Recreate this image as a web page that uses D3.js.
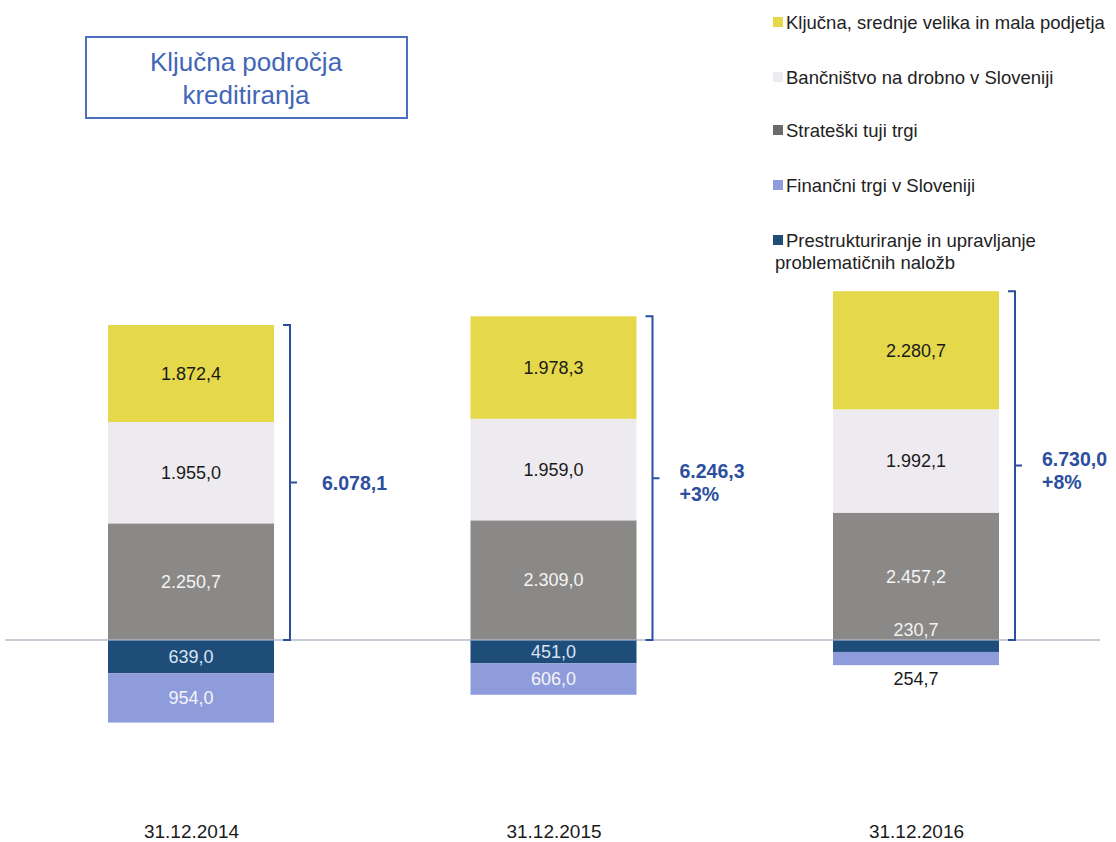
<!DOCTYPE html>
<html>
<head>
<meta charset="utf-8">
<script src="https://cdn.jsdelivr.net/npm/d3@7"></script>
<style>
  html, body { margin: 0; padding: 0; background: #fff; }
  svg { display: block; font-family: "Liberation Sans", Arial, sans-serif; }
</style>
</head>
<body>
<svg id="chart" width="1116" height="842"></svg>
<script>
// Loan portfolio by segment (EUR m), positive segments stacked above the line,
// non-core segments below it.
const dates = ["31.12.2014", "31.12.2015", "31.12.2016"];
const corporate = [1872.4, 1978.3, 2280.7];   // Ključna, srednje velika in mala podjetja
const retail    = [1955.0, 1959.0, 1992.1];   // Bančništvo na drobno v Sloveniji
const foreign   = [2250.7, 2309.0, 2457.2];   // Strateški tuji trgi
const restructuring = [639.0, 451.0, 230.7];  // Prestrukturiranje in upravljanje problematičnih naložb
const financial = [954.0, 606.0, 254.7];      // Finančni trgi v Sloveniji

const legendLabels = [
  ["Ključna, srednje velika in mala podjetja"],
  ["Bančništvo na drobno v Sloveniji"],
  ["Strateški tuji trgi"],
  ["Finančni trgi v Sloveniji"],
  ["Prestrukturiranje in upravljanje", "problematičnih naložb"]
];
const titleLines = ["Ključna področja", "kreditiranja"];

const colors = {
  corporate: "#e6d84b",
  retail: "#eeebf0",
  foreign: "#8b8987",
  restructuring: "#1f4d7a",
  financial: "#8f9cdc"
};
const blue = "#2b4f9e";

const svg = d3.select("#chart");
const loc = d3.formatLocale({decimal: ",", thousands: ".", grouping: [3], currency: ["", ""]});
const fmt = loc.format(",.1f");

// scales
const baseY = 640;
const k = 315 / 6078.1;
const y = d3.scaleLinear().domain([-1500, 7000]).range([baseY + 1500 * k, baseY - 7000 * k]);
const x = d3.scalePoint().domain(dates).range([191, 916]);
const barW = 166;

// baseline
svg.append("line")
  .attr("x1", 5).attr("x2", 1100)
  .attr("y1", y(0)).attr("y2", y(0))
  .attr("stroke", "#8f9bb0").attr("stroke-width", 1.2);

// build segments
const bars = dates.map((d, i) => {
  const up = [
    {key: "foreign", v: foreign[i], text: "#f4f4f4"},
    {key: "retail", v: retail[i], text: "#1a1a1a"},
    {key: "corporate", v: corporate[i], text: "#1a1a1a"}
  ];
  const down = [
    {key: "restructuring", v: restructuring[i], text: "#d8e4f4"},
    {key: "financial", v: financial[i], text: "#f4f4f8"}
  ];
  let acc = 0;
  up.forEach(s => { s.y0 = acc; s.y1 = acc + s.v; acc = s.y1; });
  const total = acc;
  acc = 0;
  down.forEach(s => { s.y0 = acc; s.y1 = acc - s.v; acc = s.y1; });
  return {date: d, i, segs: up.concat(down), total};
});

const g = svg.append("g");
bars.forEach(b => {
  const cx = x(b.date);
  b.segs.forEach(s => {
    const top = y(Math.max(s.y0, s.y1));
    const bot = y(Math.min(s.y0, s.y1));
    g.append("rect")
      .attr("x", cx - barW / 2).attr("width", barW)
      .attr("y", top).attr("height", bot - top)
      .attr("fill", colors[s.key]);
  });
});

// thin light edge where the bars cross the zero line
bars.forEach(b => {
  const cx = x(b.date);
  g.append("line")
    .attr("x1", cx - barW / 2).attr("x2", cx + barW / 2)
    .attr("y1", y(0)).attr("y2", y(0))
    .attr("stroke", "#b9c8dc").attr("stroke-width", 1.2);
});

// segment labels
bars.forEach(b => {
  const cx = x(b.date);
  b.segs.forEach((s, j) => {
    const top = y(Math.max(s.y0, s.y1));
    const bot = y(Math.min(s.y0, s.y1));
    const h = bot - top;
    let ty = (top + bot) / 2, col = s.text;
    if (h < 18) {
      if (s.key === "restructuring") { ty = y(0) - 10; col = "#f2f2f2"; }
      else { ty = bot + 14; col = "#1a1a1a"; }
    }
    svg.append("text")
      .attr("x", cx).attr("y", ty)
      .attr("dy", "0.35em")
      .attr("text-anchor", "middle")
      .attr("font-size", 18)
      .attr("fill", col)
      .text(fmt(s.v));
  });
});

// brackets with totals and change vs previous year
const pct = d3.format("+.0%");
bars.forEach((b, i) => {
  const bx = x(b.date) + barW / 2 + 16;
  const yt = y(b.total), yb = y(0), ym = (yt + yb) / 2;
  svg.append("path")
    .attr("d", `M${bx - 7},${yt} H${bx} V${yb} H${bx - 7} M${bx},${ym} H${bx + 7}`)
    .attr("fill", "none").attr("stroke", blue).attr("stroke-width", 2);
  const t = svg.append("text")
    .attr("font-size", 19.5).attr("font-weight", "bold")
    .attr("fill", blue);
  if (i === 0) {
    t.append("tspan").attr("x", bx + 32).attr("y", ym + 7).text(fmt(b.total));
  } else {
    const ch = b.total / bars[i - 1].total - 1;
    t.append("tspan").attr("x", bx + 27).attr("y", ym).text(fmt(b.total));
    t.append("tspan").attr("x", bx + 27).attr("y", ym + 23).text(pct(ch));
  }
});

// category axis labels
svg.append("g")
  .attr("transform", "translate(0,838)")
  .call(d3.axisBottom(x).tickSize(0))
  .call(a => a.select(".domain").remove())
  .call(a => a.selectAll("text")
    .attr("y", 0).attr("dy", "0")
    .attr("font-size", 19)
    .attr("font-family", "Liberation Sans, Arial, sans-serif")
    .attr("fill", "#1a1a1a"));

// title box
svg.append("rect")
  .attr("x", 86).attr("y", 37).attr("width", 321).attr("height", 81)
  .attr("fill", "#fff").attr("stroke", "#4c70bf").attr("stroke-width", 2);
svg.append("text")
  .attr("text-anchor", "middle").attr("font-size", 26).attr("fill", "#4266b8")
  .selectAll("tspan").data(titleLines).join("tspan")
  .attr("x", 246).attr("y", (d, i) => 71 + i * 33)
  .text(d => d);

// legend
const legendKeys = ["corporate", "retail", "foreign", "financial", "restructuring"];
const legendY = [22, 77, 130, 185, 240];
const lg = svg.append("g");
legendKeys.forEach((key, i) => {
  lg.append("rect")
    .attr("x", 773).attr("y", legendY[i] - 5).attr("width", 10).attr("height", 10)
    .attr("fill", key === "foreign" ? "#6d6b6a" : colors[key]);
  lg.append("text")
    .attr("font-size", 18.5).attr("fill", "#222")
    .selectAll("tspan").data(legendLabels[i]).join("tspan")
    .attr("x", (d, j) => j === 0 ? 786 : 775)
    .attr("y", (d, j) => legendY[i] + 7 + j * 22)
    .text(d => d);
});
</script>
</body>
</html>
